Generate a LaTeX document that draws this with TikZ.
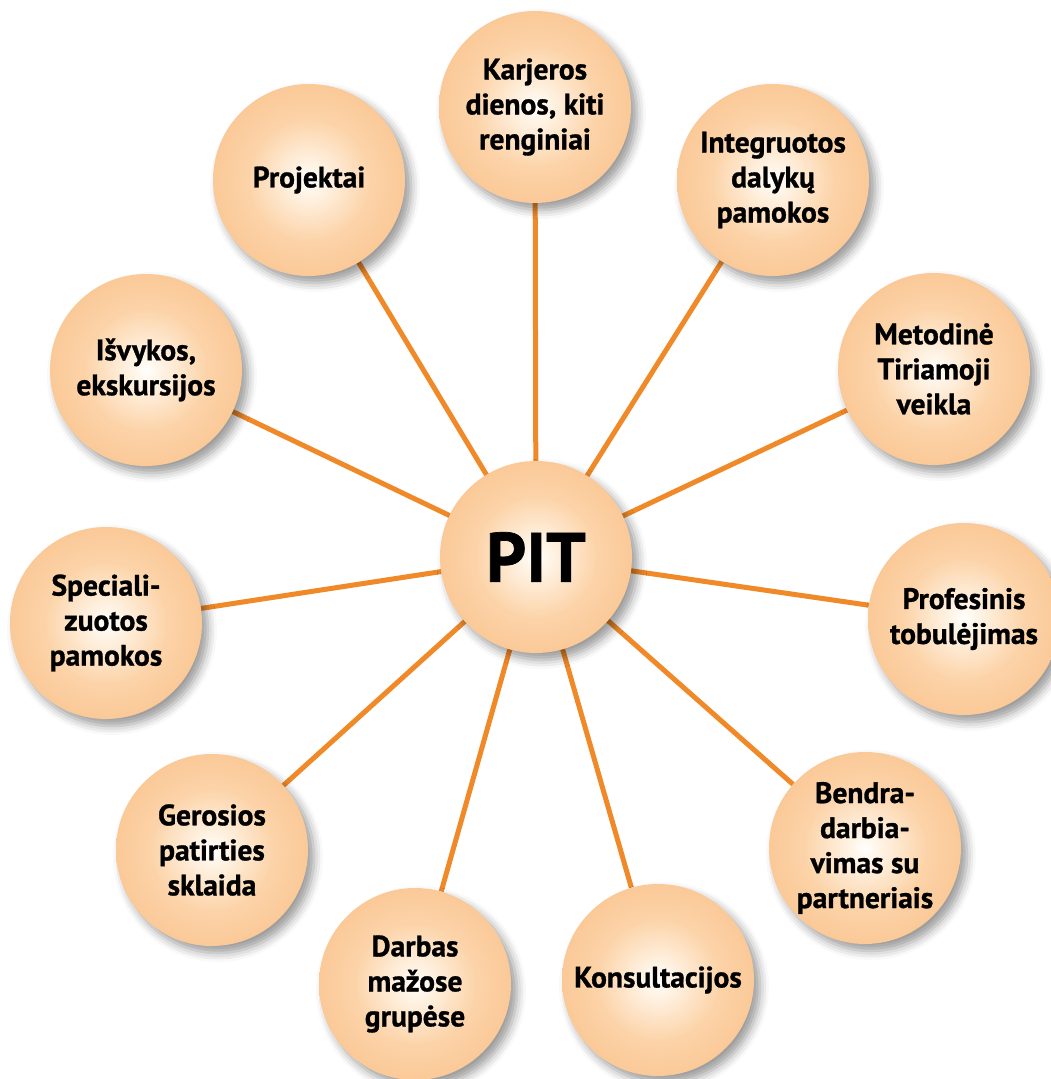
\documentclass[tikz,border=0pt]{standalone}
\usepackage{fontspec}
\setmainfont{PT Sans}
\newfontfamily\ballfont[FakeBold=1]{PT Sans Bold}
\usetikzlibrary{shadows.blur}
\definecolor{bgtop}{RGB}{253,250,246}
\definecolor{bgbottom}{RGB}{253,239,224}
\definecolor{spoke}{RGB}{240,137,40}
\definecolor{ballhi}{RGB}{255,246,234}
\definecolor{ballmid}{RGB}{252,211,168}
\definecolor{balllow}{RGB}{249,190,134}
\definecolor{ballrim}{RGB}{246,176,110}
\pgfdeclareradialshading{ballshade}{\pgfpoint{0bp}{0bp}}{color(0bp)=(white); color(3bp)=(ballhi); color(16bp)=(ballmid); color(35bp)=(balllow); color(50bp)=(ballrim); color(60bp)=(ballrim)}
\pgfdeclarelayer{backdrop}
\pgfdeclarelayer{spokes}
\pgfsetlayers{backdrop,spokes,main}

\begin{document}
\begin{tikzpicture}[x=1pt, y=-1pt,
  ball/.style={circle, minimum size=192pt, inner sep=0pt, shading=ballshade,
    blur shadow={shadow xshift=6pt, shadow yshift=-7pt, shadow blur radius=9pt, shadow opacity=40}},
  balltext/.style={align=center, font=\ballfont\fontsize{29.5}{35}\selectfont},
  spokeline/.style={line width=5pt, spoke}]
% Fix the page size
\useasboundingbox (0, 0) rectangle (1051, 1079);
% Light peach background
\begin{pgfonlayer}{backdrop}
\shade[top color=bgtop, bottom color=bgbottom] (0, 0) rectangle (1051, 1079);
\end{pgfonlayer}
% Warm up the shadow fading off the page
\path[blur shadow={shadow xshift=6pt, shadow yshift=-7pt, shadow blur radius=9pt, shadow opacity=40}] (-400, -400) circle (96);
% Top ball
\node[ball, label={[balltext]center:Karjeros\\dienos, kiti\\renginiai}] (karjeros) at (535, 107) {};
% Balls going clockwise
\node[ball, label={[balltext]center:Integruotos\\dalykų\\pamokos}] (integruotos) at (773, 180) {};
\node[ball, label={[balltext]center:Metodinė\\Tiriamoji\\veikla}] (metodine) at (934, 369) {};
\node[ball, label={[balltext]center:Profesinis\\tobulėjimas}] (profesinis) at (964, 619) {};
\node[ball, label={[balltext]center:Bendra-\\darbia-\\vimas su\\partneriais}] (bendra) at (865, 848) {};
\node[ball, label={[balltext]center:Konsultacijos}] (konsultacijos) at (658, 980) {};
\node[ball, label={[balltext]center:Darbas\\mažose\\grupėse}] (darbas) at (415, 984) {};
\node[ball, label={[balltext]center:Gerosios\\patirties\\sklaida}] (gerosios) at (212, 850) {};
\node[ball, label={[balltext]center:Speciali-\\zuotos\\pamokos}] (specializuotos) at (106, 623) {};
\node[ball, label={[balltext]center:Išvykos,\\ekskursijos}] (isvykos) at (146, 370) {};
\node[ball, label={[balltext]center:Projektai}] (projektai) at (309, 180) {};
% Centre ball
\node[ball, label={[font=\ballfont\fontsize{70}{74}\selectfont]center:PIT}] (pit) at (536, 557) {};
% Spokes from the centre, under the balls
\begin{pgfonlayer}{spokes}
\draw[spokeline] (pit.center) -- (karjeros);
\draw[spokeline] (pit.center) -- (integruotos);
\draw[spokeline] (pit.center) -- (metodine);
\draw[spokeline] (pit.center) -- (profesinis);
\draw[spokeline] (pit.center) -- (bendra);
\draw[spokeline] (pit.center) -- (konsultacijos);
\draw[spokeline] (pit.center) -- (darbas);
\draw[spokeline] (pit.center) -- (gerosios);
\draw[spokeline] (pit.center) -- (specializuotos);
\draw[spokeline] (pit.center) -- (isvykos);
\draw[spokeline] (pit.center) -- (projektai);
\end{pgfonlayer}
\end{tikzpicture}
\end{document}
